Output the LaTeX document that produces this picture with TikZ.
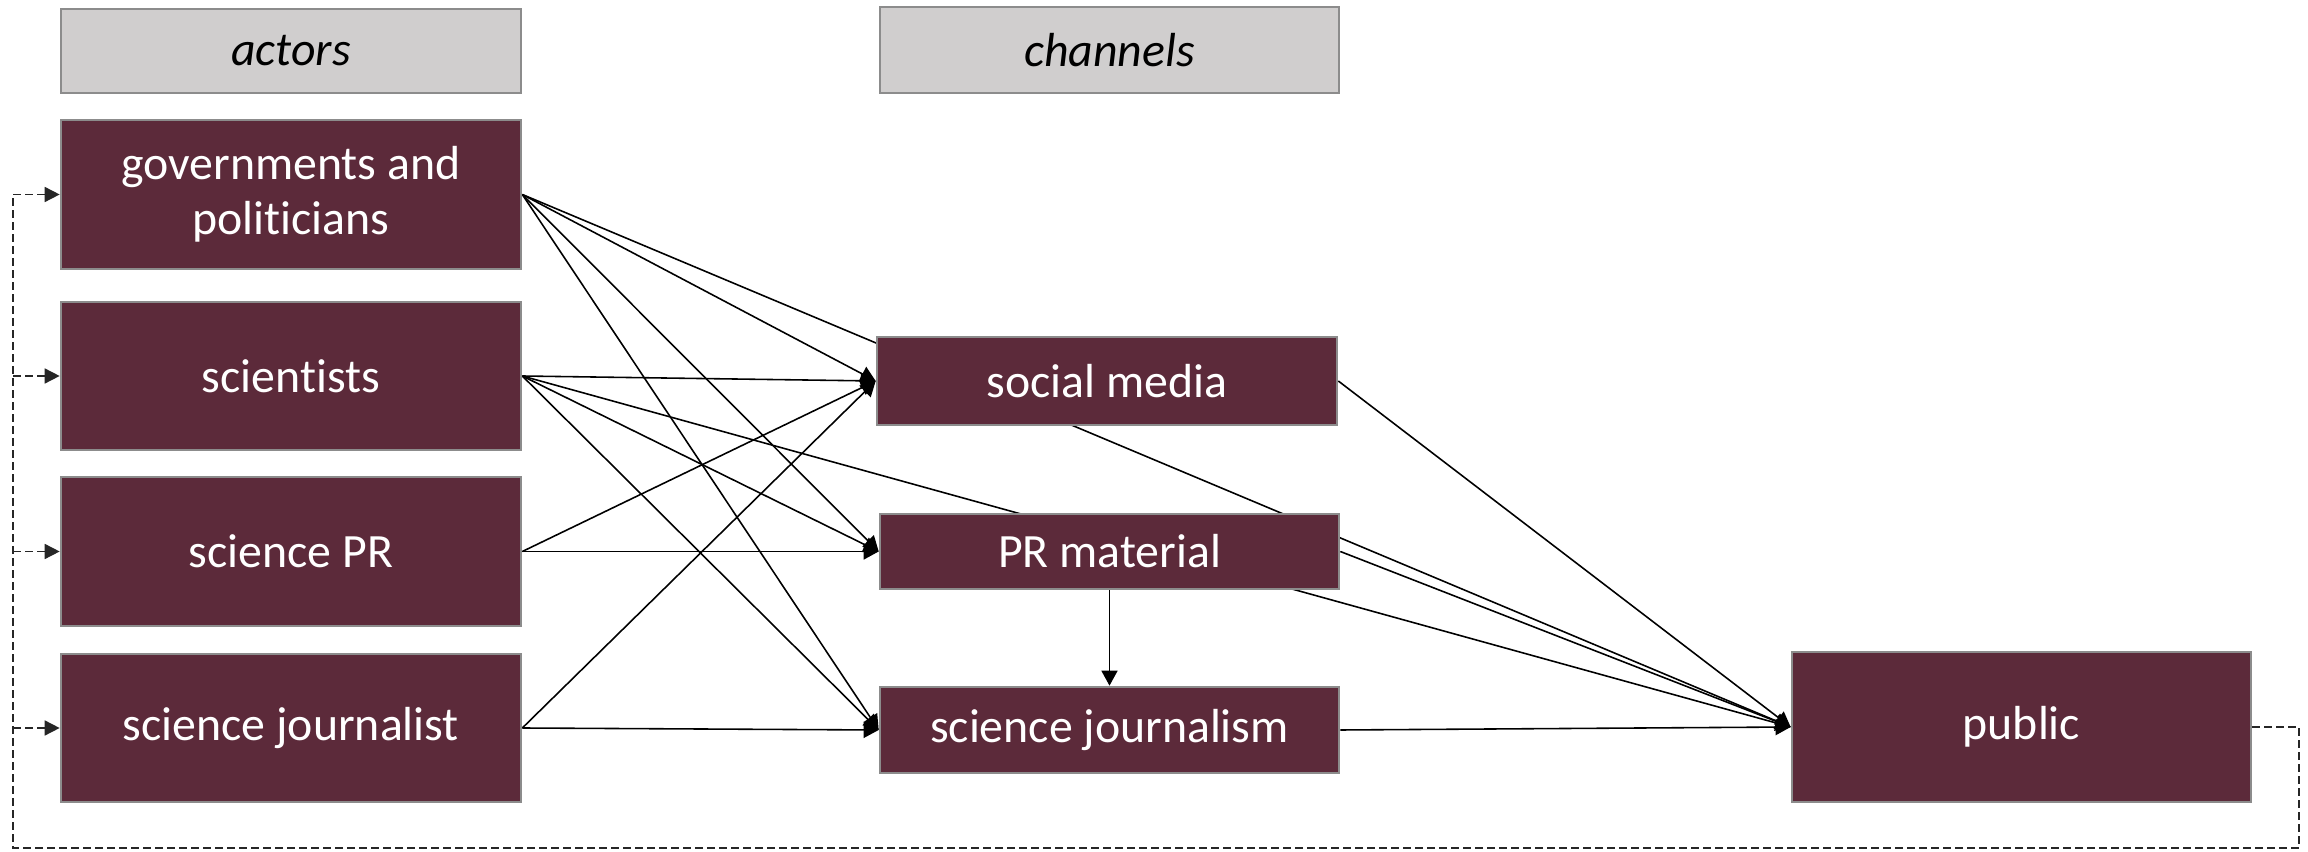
\documentclass[tikz,border=0pt]{standalone}
\usepackage{fontspec}
\setmainfont{Carlito}[Ligatures=NoCommon]
\usetikzlibrary{arrows.meta,backgrounds}
\definecolor{boxred}{RGB}{92,42,58}
\definecolor{boxline}{RGB}{140,140,140}
\definecolor{headgray}{RGB}{208,206,206}
\tikzset{
	box/.style={draw=boxline, line width=0.75pt, fill=boxred, text=white, align=center, inner sep=0pt,
		font=\fontsize{13.6}{15.6}\selectfont},
	headbox/.style={draw=boxline, line width=0.75pt, fill=headgray, inner sep=0pt,
		font=\fontsize{13.6}{15.6}\selectfont\itshape},
	link/.style={line width=0.45pt, -{Triangle[length=1.5mm,width=1.6mm]}},
	feedback/.style={line width=0.45pt, draw=black!85, dash pattern=on 0.8mm off 0.4mm},
}

\begin{document}
\begin{tikzpicture}[y=-1cm]
			%%%%% START %%%%%
			\useasboundingbox (0, 0) rectangle (23.08, 8.52);
			
			% column heads
			\node[headbox, minimum width=4.60cm, minimum height=0.84cm] (actors) at (2.91, 0.51) {actors};
			\node[headbox, minimum width=4.59cm, minimum height=0.86cm] (channels) at (11.095, 0.50) {channels};
			
			% actors
			\node[box, minimum width=4.60cm, minimum height=1.49cm] (gov) at (2.91, 1.945) {governments and\\politicians};
			\node[box, minimum width=4.60cm, minimum height=1.48cm] (sci) at (2.91, 3.76) {scientists};
			\node[box, minimum width=4.60cm, minimum height=1.49cm] (pr) at (2.91, 5.515) {science PR};
			\node[box, minimum width=4.60cm, minimum height=1.48cm] (journalist) at (2.91, 7.28) {science journalist};
			
			% channels
			\node[box, minimum width=4.60cm, minimum height=0.88cm] (social) at (11.07, 3.81) {social media};
			\node[box, minimum width=4.59cm, minimum height=0.75cm] (prmat) at (11.095, 5.515) {PR material};
			\node[box, minimum width=4.59cm, minimum height=0.86cm] (sjournalism) at (11.095, 7.30) {science journalism};
			
			\node[box, minimum width=4.59cm, minimum height=1.50cm] (public) at (20.215, 7.27) {public};
			
			\begin{scope}[on background layer]
				\foreach \a/\c in {gov/social, gov/prmat, gov/sjournalism, gov/public,
					sci/social, sci/prmat, sci/sjournalism, sci/public,
					pr/social, pr/prmat,
					journalist/social, journalist/sjournalism,
					social/public, prmat/public, sjournalism/public}
					\draw[link] (\a.east) -- (\c.west);
			\end{scope}
			
			\draw[link] (prmat.south) -- (sjournalism.north);
			
			% feedback loop back to the actors
			\coordinate (loopBR) at (22.99, 8.48);
			\coordinate (loopBL) at (0.13, 8.48);
			\draw[feedback] (public.east) -- (public.east -| loopBR) -- (loopBR) -- (loopBL) -- (loopBL |- gov.west);
			\foreach \a in {gov, sci, pr, journalist}
				\draw[feedback, -{Triangle[length=1.5mm,width=1.5mm]}] (loopBL |- \a.west) -- (\a.west);
			
			%%%%% END %%%%%
\end{tikzpicture}
\end{document}
